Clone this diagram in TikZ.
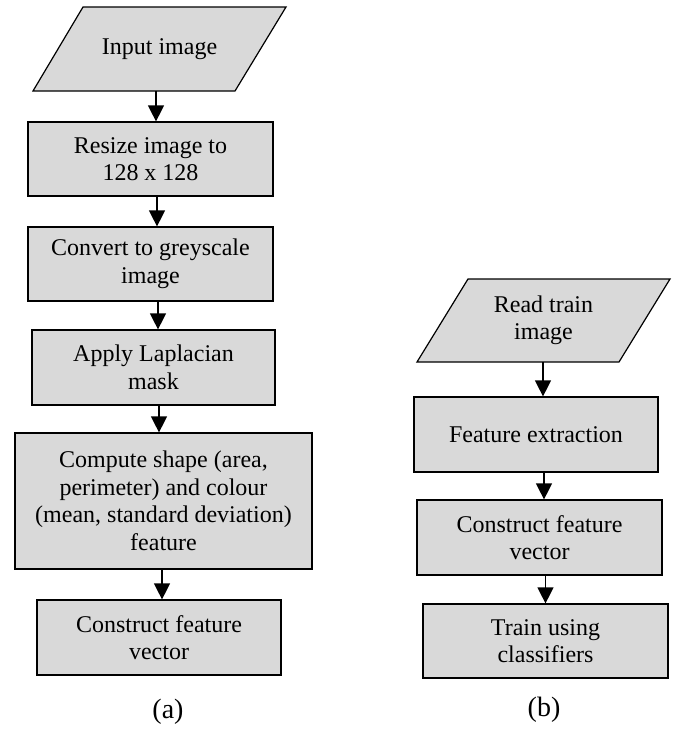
\documentclass[tikz,border=0pt]{standalone}
\usepackage{fontspec}
\setmainfont{Liberation Serif}
\usetikzlibrary{arrows.meta}
\begin{document}
\begin{tikzpicture}[x=1pt,y=-1pt,
  every node/.style={font=\fontsize{24}{27.5}\selectfont, align=center, inner sep=0pt},
  procbox/.style={draw=black, line width=1.2pt, fill=black!15, rectangle},
  iotext/.style={rectangle},
  iofill/.style={draw=black, line width=1.2pt, fill=black!15, line join=miter},
  sublabel/.style={font=\fontsize{28}{32}\selectfont},
  arr/.style={line width=1.2pt, -{Triangle[length=16pt,width=16pt]}}
]
\useasboundingbox (0,0) rectangle (677,731);

% ---- (a) ----
\filldraw[iofill] (83,7) -- (286,7) -- (235,91) -- (33,91) -- cycle;
\node[iotext, minimum height=84pt, minimum width=150pt] (in) at (159.5,49) {Input image};
\node[procbox, minimum width=245pt, minimum height=74pt] (resize) at (150.5,159) {Resize image to\\128 x 128};
\node[procbox, minimum width=245pt, minimum height=74pt] (gray) at (150.5,264) {Convert to greyscale\\image};
\node[procbox, minimum width=243pt, minimum height=75pt] (lap) at (153.5,367.5) {Apply Laplacian\\mask};
\node[procbox, minimum width=297pt, minimum height=136pt] (comp) at (163.5,501) {Compute shape (area,\\perimeter) and colour\\(mean, standard deviation)\\feature};
\node[procbox, minimum width=244pt, minimum height=75pt] (consA) at (159,637.5) {Construct feature\\vector};
\node[sublabel] (la) at (168,712) {(a)};

\draw[arr] (in.south -| 156,0) -- (resize.north -| 156,0);
\draw[arr] (resize.south -| 157,0) -- (gray.north -| 157,0);
\draw[arr] (gray.south -| 158,0) -- (lap.north -| 158,0);
\draw[arr] (lap.south -| 159,0) -- (comp.north -| 159,0);
\draw[arr] (comp.south -| 162,0) -- (consA.north -| 162,0);

% ---- (b) ----
\filldraw[iofill] (468,279) -- (670,279) -- (619,362) -- (417,362) -- cycle;
\node[iotext, minimum height=83pt, minimum width=150pt] (read) at (543.5,320.5) {Read train\\image};
\node[procbox, minimum width=244pt, minimum height=75pt] (feat) at (536,434.5) {Feature extraction};
\node[procbox, minimum width=245pt, minimum height=75pt] (consB) at (539.5,537.5) {Construct feature\\vector};
\node[procbox, minimum width=245pt, minimum height=74pt] (train) at (545.5,641) {Train using\\classifiers};
\node[sublabel] (lb) at (544,710) {(b)};

\draw[arr] (read.south -| 543,0) -- (feat.north -| 543,0);
\draw[arr] (feat.south -| 544,0) -- (consB.north -| 544,0);
\draw[arr] (consB.south -| 545.5,0) -- (train.north -| 545.5,0);
\end{tikzpicture}
\end{document}
